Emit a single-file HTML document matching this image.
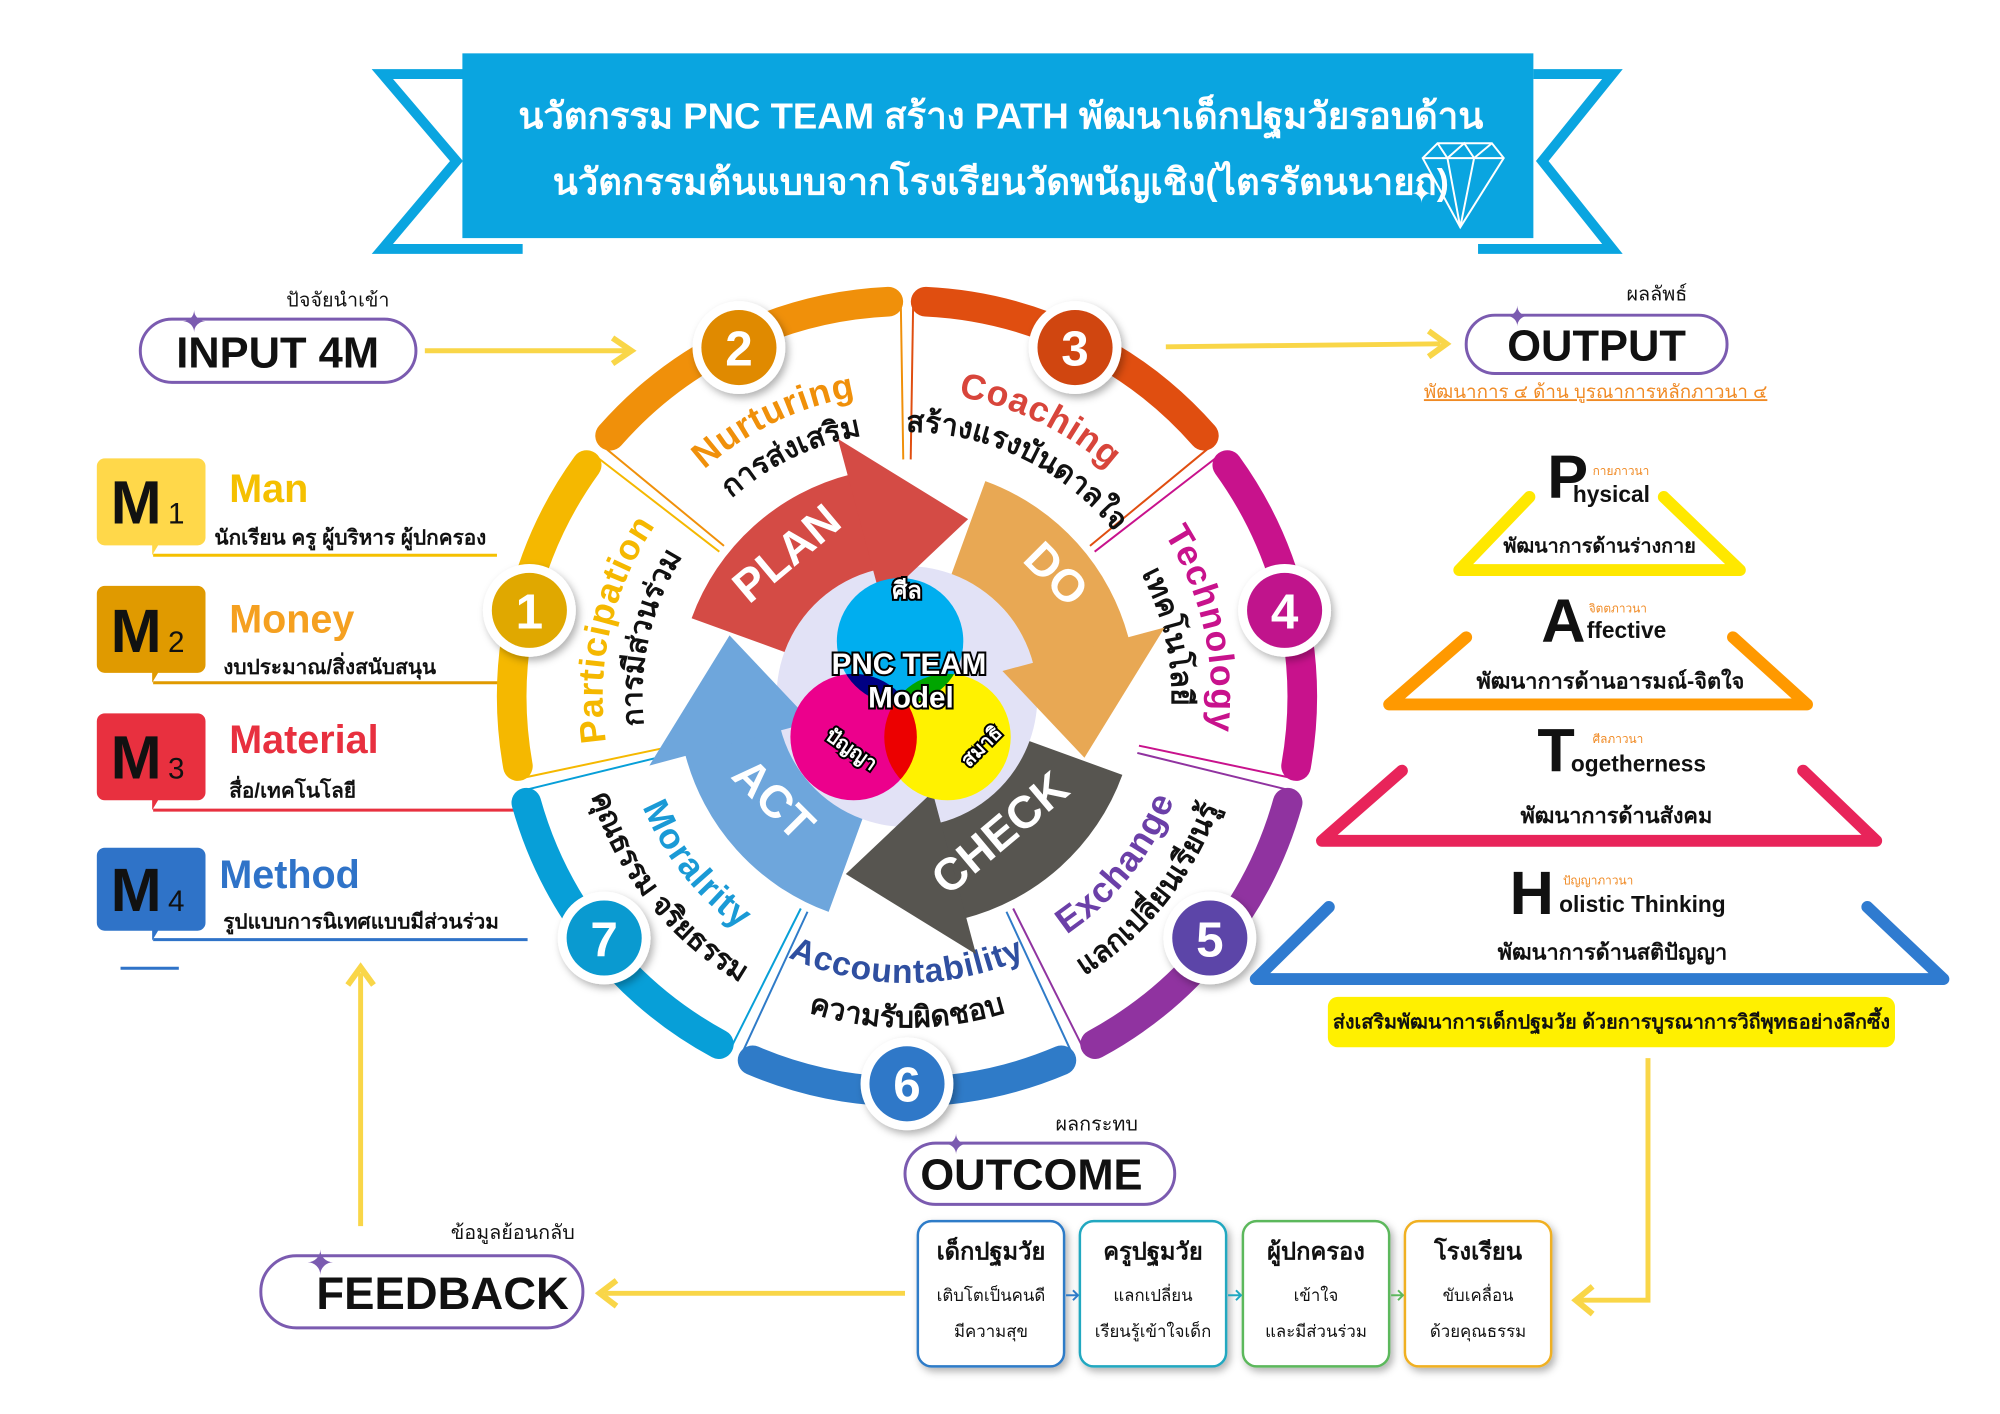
<!DOCTYPE html>
<html><head><meta charset="utf-8"><style>
html,body{margin:0;padding:0;background:#fff;}
svg{display:block;}
text{font-family:"Liberation Sans",sans-serif;}
.th{font-family:"Liberation Sans","Noto Sans CJK SC",sans-serif;}
</style></head><body>
<svg width="2000" height="1414" viewBox="0 0 2000 1414" xmlns="http://www.w3.org/2000/svg">
<defs>
<filter id="sh" x="-30%" y="-30%" width="160%" height="160%"><feDropShadow dx="3" dy="4" stdDeviation="4" flood-color="#000" flood-opacity="0.3"/></filter>
<path id="cw308" d="M1153.9,507 A308 308 0 0 1 1153.9,903"/>
<path id="cw268" d="M1123.3,532.7 A268 268 0 0 1 1123.3,877.3"/>
<path id="ccw290" d="M1140.1,891.4 A290 290 0 0 0 1140.1,518.6"/>
<path id="ccw335" d="M1174.6,920.3 A335 335 0 0 0 1174.6,489.7"/>
</defs>
<g transform="scale(0.988)">
<!-- Title banner -->
<polyline points="471,75 387,75 462,163 387,252 529,252" fill="none" stroke="#0AA5E0" stroke-width="10" stroke-linejoin="miter"/>
<polyline points="1552,75 1632,75 1561,163 1632,252 1496,252" fill="none" stroke="#0AA5E0" stroke-width="10" stroke-linejoin="miter"/>
<rect x="468" y="54" width="1084" height="187" fill="#0AA5E0"/>
<text x="1013" y="130" text-anchor="middle" class="th" font-family="Liberation Serif,serif" font-size="37" font-weight="bold" fill="#fff">นวัตกรรม PNC TEAM สร้าง PATH พัฒนาเด็กปฐมวัยรอบด้าน</text>
<text x="1013" y="197" text-anchor="middle" class="th" font-family="Liberation Serif,serif" font-size="37" font-weight="bold" fill="#fff">นวัตกรรมต้นแบบจากโรงเรียนวัดพนัญเชิง(ไตรรัตนนายก)</text>
<g fill="none" stroke="#fff" stroke-width="2">
<polygon points="1440,160 1455,145 1510,145 1522,160 1478,230"/>
<polyline points="1440,160 1522,160"/><polyline points="1465,160 1478,230 1492,160"/><polyline points="1455,145 1465,160 1482,145 1492,160 1510,145"/>
</g>
<text x="1428" y="205" font-size="26" fill="#fff">✦</text>

<!-- INPUT -->
<text x="342" y="310" text-anchor="middle" class="th" font-size="20" fill="#111">ปัจจัยนำเข้า</text>
<rect x="142" y="323" width="279" height="64" rx="32" fill="#fff" stroke="#7B5BB0" stroke-width="3"/>
<text x="281" y="372" text-anchor="middle" font-size="44" font-weight="bold" fill="#111">INPUT 4M</text>
<text x="184" y="336" font-size="30" fill="#7B5BB0">✦</text>
<line x1="430" y1="355" x2="635" y2="355" stroke="#F9D648" stroke-width="5"/>
<polyline points="620,342 639,355 620,368" fill="none" stroke="#F9D648" stroke-width="6"/>

<!-- OUTPUT -->
<text x="1677" y="304" text-anchor="middle" class="th" font-size="20" fill="#111">ผลลัพธ์</text>
<rect x="1484" y="319" width="264" height="59" rx="29" fill="#fff" stroke="#7B5BB0" stroke-width="3"/>
<text x="1616" y="365" text-anchor="middle" font-size="44" font-weight="bold" fill="#111">OUTPUT</text>
<text x="1524" y="330" font-size="28" fill="#7B5BB0">✦</text>
<line x1="1180" y1="351" x2="1458" y2="348" stroke="#F9D648" stroke-width="5"/>
<polyline points="1446,335 1464,348 1446,361" fill="none" stroke="#F9D648" stroke-width="6"/>
<text x="1615" y="403" text-anchor="middle" class="th" font-size="19" fill="#F08A24" text-decoration="underline">พัฒนาการ ๔ ด้าน บูรณาการหลักภาวนา ๔</text>

<!-- M boxes -->
<g>
<path d="M106,464 h94 a8 8 0 0 1 8 8 v72 a8 8 0 0 1 -8 8 h-40 l-6 10 v-10 h-48 a8 8 0 0 1 -8 -8 v-72 a8 8 0 0 1 8 -8z" fill="#FFD84A"/>
<text x="112" y="530" font-size="62" font-weight="bold" fill="#111">M</text><text x="170" y="530" font-size="30" fill="#111">1</text>
<text x="232" y="508" font-size="40" font-weight="bold" fill="#F5C000">Man</text>
<text x="217" y="551" class="th" font-size="21" font-weight="bold" fill="#111">นักเรียน ครู ผู้บริหาร ผู้ปกครอง</text>
<line x1="155" y1="562" x2="503" y2="562" stroke="#F5C000" stroke-width="3"/>

<path d="M106,593 h94 a8 8 0 0 1 8 8 v72 a8 8 0 0 1 -8 8 h-40 l-6 10 v-10 h-48 a8 8 0 0 1 -8 -8 v-72 a8 8 0 0 1 8 -8z" fill="#E09A00"/>
<text x="112" y="660" font-size="62" font-weight="bold" fill="#111">M</text><text x="170" y="660" font-size="30" fill="#111">2</text>
<text x="232" y="640" font-size="40" font-weight="bold" fill="#F5A020">Money</text>
<text x="226" y="682" class="th" font-size="21" font-weight="bold" fill="#111">งบประมาณ/สิ่งสนับสนุน</text>
<line x1="155" y1="691" x2="506" y2="691" stroke="#E09A00" stroke-width="3"/>

<path d="M106,722 h94 a8 8 0 0 1 8 8 v72 a8 8 0 0 1 -8 8 h-40 l-6 10 v-10 h-48 a8 8 0 0 1 -8 -8 v-72 a8 8 0 0 1 8 -8z" fill="#E8303F"/>
<text x="112" y="788" font-size="62" font-weight="bold" fill="#111">M</text><text x="170" y="788" font-size="30" fill="#111">3</text>
<text x="232" y="762" font-size="40" font-weight="bold" fill="#E8303F">Material</text>
<text x="232" y="807" class="th" font-size="21" font-weight="bold" fill="#111">สื่อ/เทคโนโลยี</text>
<line x1="155" y1="820" x2="522" y2="820" stroke="#E8303F" stroke-width="3"/>

<path d="M106,858 h94 a8 8 0 0 1 8 8 v68 a8 8 0 0 1 -8 8 h-40 l-6 10 v-10 h-48 a8 8 0 0 1 -8 -8 v-68 a8 8 0 0 1 8 -8z" fill="#2F73C8"/>
<text x="112" y="922" font-size="62" font-weight="bold" fill="#111">M</text><text x="170" y="922" font-size="30" fill="#111">4</text>
<text x="222" y="899" font-size="40" font-weight="bold" fill="#2F73C8">Method</text>
<text x="226" y="940" class="th" font-size="21" font-weight="bold" fill="#111">รูปแบบการนิเทศแบบมีส่วนร่วม</text>
<line x1="155" y1="951" x2="534" y2="951" stroke="#2F73C8" stroke-width="3"/>
<line x1="122" y1="980" x2="181" y2="980" stroke="#2F73C8" stroke-width="3"/>
</g>

<!-- Divider lines -->
<g stroke-width="2">
<g transform="rotate(-0.9 918 705)"><line x1="813.9" y1="921.2" x2="746.6" y2="1060.9" stroke="#2F7BC8"/><line x1="684" y1="758.4" x2="532.9" y2="792.9" stroke="#079FD8"/><line x1="730.4" y1="555.4" x2="609.2" y2="458.7" stroke="#F5B800"/><line x1="918" y1="465" x2="918" y2="310" stroke="#F0900A"/><line x1="1105.6" y1="555.4" x2="1226.8" y2="458.7" stroke="#E04E10"/><line x1="1152" y1="758.4" x2="1303.1" y2="792.9" stroke="#C8128C"/><line x1="1022.1" y1="921.2" x2="1089.4" y2="1060.9" stroke="#9033A0"/></g>
<g transform="rotate(0.9 918 705)"><line x1="813.9" y1="921.2" x2="746.6" y2="1060.9" stroke="#079FD8"/><line x1="684" y1="758.4" x2="532.9" y2="792.9" stroke="#F5B800"/><line x1="730.4" y1="555.4" x2="609.2" y2="458.7" stroke="#F0900A"/><line x1="918" y1="465" x2="918" y2="310" stroke="#E04E10"/><line x1="1105.6" y1="555.4" x2="1226.8" y2="458.7" stroke="#C8128C"/><line x1="1152" y1="758.4" x2="1303.1" y2="792.9" stroke="#9033A0"/><line x1="1022.1" y1="921.2" x2="1089.4" y2="1060.9" stroke="#2F7BC8"/></g>
</g>

<!-- Ring segments -->
<g fill="none" stroke-width="30" stroke-linecap="round">
<path d="M1074.3,1073.2 A400 400 0 0 1 761.7,1073.2" stroke="#2F7BC8"/>
<path d="M727.6,1056.8 A400 400 0 0 1 532.7,812.4" stroke="#079FD8"/>
<path d="M524.2,775.4 A400 400 0 0 1 593.8,470.7" stroke="#F5B800"/>
<path d="M617.5,441 A400 400 0 0 1 899.1,305.4" stroke="#F0900A"/>
<path d="M936.9,305.4 A400 400 0 0 1 1218.5,441" stroke="#E04E10"/>
<path d="M1242.2,470.7 A400 400 0 0 1 1311.8,775.4" stroke="#C8128C"/>
<path d="M1303.3,812.4 A400 400 0 0 1 1108.4,1056.8" stroke="#9033A0"/>
</g>

<!-- Segment labels -->
<g font-weight="bold">
<g transform="rotate(192.86 918 705)"><text font-size="36" fill="#F5B800" letter-spacing="1"><textPath href="#cw308" startOffset="50%" text-anchor="middle">Participation</textPath></text><text class="th" font-size="30" fill="#111"><textPath href="#cw268" startOffset="50%" text-anchor="middle">การมีส่วนร่วม</textPath></text></g>
<g transform="rotate(244.29 918 705)"><text font-size="36" fill="#F0900A" letter-spacing="1"><textPath href="#cw308" startOffset="50%" text-anchor="middle">Nurturing</textPath></text><text class="th" font-size="30" fill="#111"><textPath href="#cw268" startOffset="50%" text-anchor="middle">การส่งเสริม</textPath></text></g>
<g transform="rotate(295.71 918 705)"><text font-size="36" fill="#D8453B" letter-spacing="1"><textPath href="#cw308" startOffset="50%" text-anchor="middle">Coaching</textPath></text><text class="th" font-size="30" fill="#111"><textPath href="#cw268" startOffset="50%" text-anchor="middle">สร้างแรงบันดาลใจ</textPath></text></g>
<g transform="rotate(347.14 918 705)"><text font-size="36" fill="#C8128C" letter-spacing="1"><textPath href="#cw308" startOffset="50%" text-anchor="middle">Technology</textPath></text><text class="th" font-size="30" fill="#111"><textPath href="#cw268" startOffset="50%" text-anchor="middle">เทคโนโลยี</textPath></text></g>
<g transform="rotate(38.57 918 705)"><text font-size="36" fill="#6B3FA8" letter-spacing="1"><textPath href="#ccw290" startOffset="50%" text-anchor="middle">Exchange</textPath></text><text class="th" font-size="30" fill="#111"><textPath href="#ccw335" startOffset="50%" text-anchor="middle">แลกเปลี่ยนเรียนรู้</textPath></text></g>
<g transform="rotate(90 918 705)"><text font-size="34" fill="#2F4FA0" letter-spacing="1"><textPath href="#ccw290" startOffset="50%" text-anchor="middle">Accountability</textPath></text><text class="th" font-size="30" fill="#111"><textPath href="#ccw335" startOffset="50%" text-anchor="middle">ความรับผิดชอบ</textPath></text></g>
<g transform="rotate(141.43 918 705)"><text font-size="36" fill="#1A9AD6" letter-spacing="1"><textPath href="#ccw290" startOffset="50%" text-anchor="middle">Moralrity</textPath></text><text class="th" font-size="30" fill="#111"><textPath href="#ccw335" startOffset="50%" text-anchor="middle">คุณธรรม จริยธรรม</textPath></text></g>
</g>

<!-- Number circles -->
<g font-size="50" font-weight="bold" fill="#fff" text-anchor="middle" font-family="Liberation Sans Narrow,Liberation Sans,sans-serif">
<circle cx="535.8" cy="617.8" r="47" fill="#fff" filter="url(#sh)"/><circle cx="535.8" cy="617.8" r="38" fill="#E0A800"/><text x="535.8" y="636">1</text>
<circle cx="747.9" cy="351.8" r="47" fill="#fff" filter="url(#sh)"/><circle cx="747.9" cy="351.8" r="38" fill="#E08A00"/><text x="747.9" y="370">2</text>
<circle cx="1088.1" cy="351.8" r="47" fill="#fff" filter="url(#sh)"/><circle cx="1088.1" cy="351.8" r="38" fill="#D04610"/><text x="1088.1" y="370">3</text>
<circle cx="1300.2" cy="617.8" r="47" fill="#fff" filter="url(#sh)"/><circle cx="1300.2" cy="617.8" r="38" fill="#C0148C"/><text x="1300.2" y="636">4</text>
<circle cx="1224.5" cy="949.4" r="47" fill="#fff" filter="url(#sh)"/><circle cx="1224.5" cy="949.4" r="38" fill="#5C45A8"/><text x="1224.5" y="968">5</text>
<circle cx="918" cy="1097" r="47" fill="#fff" filter="url(#sh)"/><circle cx="918" cy="1097" r="38" fill="#2F78C8"/><text x="918" y="1115">6</text>
<circle cx="611.5" cy="949.4" r="47" fill="#fff" filter="url(#sh)"/><circle cx="611.5" cy="949.4" r="38" fill="#0A9AD0"/><text x="611.5" y="968">7</text>
</g>

<!-- Center disc -->
<circle cx="918" cy="705" r="132" fill="#E2E2F6"/>

<!-- PDCA arrows -->
<path d="M700,625.7 A232 232 0 0 1 861.9,479.9 L886.1,576.9 A132 132 0 0 0 794,659.9 Z" fill="#D44B45"/>
<polygon points="892.1,608.4 848.1,444.2 979.9,525.4" fill="#D44B45"/>
<path d="M997.3,487 A232 232 0 0 1 1143.1,648.9 L1046.1,673.1 A132 132 0 0 0 963.1,581 Z" fill="#E8A854"/>
<polygon points="1014.6,679.1 1178.8,635.1 1097.6,766.9" fill="#E8A854"/>
<path d="M1136,784.3 A232 232 0 0 1 974.1,930.1 L949.9,833.1 A132 132 0 0 0 1042,750.1 Z" fill="#575550"/>
<polygon points="943.9,801.6 987.9,965.8 856.1,884.6" fill="#575550"/>
<path d="M838.7,923 A232 232 0 0 1 692.9,761.1 L789.9,736.9 A132 132 0 0 0 872.9,829 Z" fill="#6EA6DC"/>
<polygon points="821.4,730.9 657.2,774.9 738.4,643.1" fill="#6EA6DC"/>

<g font-size="46" font-weight="bold" fill="#fff" text-anchor="middle">
<text transform="translate(806,572) rotate(-40)">PLAN</text>
<text transform="translate(1058,592) rotate(45)">DO</text>
<text transform="translate(1022,855) rotate(-40)">CHECK</text>
<text transform="translate(772,820) rotate(45)">ACT</text>
</g>

<!-- Venn -->
<g style="isolation:isolate">
<circle cx="911" cy="649" r="64" fill="#00AEEF"/>
<circle cx="864" cy="746" r="64" fill="#EC008C" style="mix-blend-mode:multiply"/>
<circle cx="959" cy="746" r="64" fill="#FFF200" style="mix-blend-mode:multiply"/>
</g>
<g font-weight="bold" fill="#fff" stroke="#000" stroke-width="4" paint-order="stroke" text-anchor="middle">
<text x="920" y="682" font-size="30">PNC TEAM</text>
<text x="922" y="716" font-size="30">Model</text>
<text x="918" y="606" class="th" font-size="24">ศีล</text>
<text transform="translate(858,764) rotate(35)" class="th" font-size="20">ปัญญา</text>
<text transform="translate(998,760) rotate(-45)" class="th" font-size="20">สมาธิ</text>
</g>

<!-- Right pyramids -->
<g fill="none" stroke-width="12" stroke-linejoin="round" stroke-linecap="round">
<polyline points="1548,503 1477,577 1761,577 1684,503" stroke="#FFE800"/>
<polyline points="1484,645 1406,713 1829,713 1754,645" stroke="#FF9900"/>
<polyline points="1419,780 1338,851 1899,851 1825,780" stroke="#E8245A"/>
<polyline points="1345,918 1271,991 1967,991 1890,918" stroke="#2F7BD0"/>
</g>
<g fill="#111">
<text x="1566" y="504" font-size="62" font-weight="bold">P</text>
<text x="1592" y="508" font-family="Liberation Serif,serif" font-size="23" font-weight="bold">hysical</text>
<text x="1612" y="481" class="th" font-size="12" fill="#F08A24">กายภาวนา</text>
<text x="1619" y="559" text-anchor="middle" class="th" font-size="20" font-weight="bold">พัฒนาการด้านร่างกาย</text>

<text x="1560" y="650" font-size="62" font-weight="bold">A</text>
<text x="1606" y="646" font-family="Liberation Serif,serif" font-size="23" font-weight="bold">ffective</text>
<text x="1608" y="620" class="th" font-size="12" fill="#F08A24">จิตตภาวนา</text>
<text x="1630" y="697" text-anchor="middle" class="th" font-size="22" font-weight="bold">พัฒนาการด้านอารมณ์-จิตใจ</text>

<text x="1556" y="781" font-size="62" font-weight="bold">T</text>
<text x="1590" y="781" font-family="Liberation Serif,serif" font-size="23" font-weight="bold">ogetherness</text>
<text x="1612" y="752" class="th" font-size="12" fill="#F08A24">ศีลภาวนา</text>
<text x="1636" y="833" text-anchor="middle" class="th" font-size="22" font-weight="bold">พัฒนาการด้านสังคม</text>

<text x="1528" y="925" font-size="62" font-weight="bold">H</text>
<text x="1578" y="923" font-family="Liberation Serif,serif" font-size="23" font-weight="bold">olistic Thinking</text>
<text x="1582" y="895" class="th" font-size="12" fill="#F08A24">ปัญญาภาวนา</text>
<text x="1632" y="971" text-anchor="middle" class="th" font-size="22" font-weight="bold">พัฒนาการด้านสติปัญญา</text>
</g>
<rect x="1344" y="1009" width="574" height="51" rx="10" fill="#FFF000"/>
<text x="1631" y="1041" text-anchor="middle" class="th" font-size="20" font-weight="bold" fill="#111">ส่งเสริมพัฒนาการเด็กปฐมวัย ด้วยการบูรณาการวิถีพุทธอย่างลึกซึ้ง</text>

<!-- right connector -->
<polyline points="1668,1071 1668,1316 1598,1316" fill="none" stroke="#F9D648" stroke-width="5"/>
<polyline points="1612,1302 1595,1316 1612,1330" fill="none" stroke="#F9D648" stroke-width="6"/>

<!-- OUTCOME -->
<text x="1110" y="1144" text-anchor="middle" class="th" font-size="20" fill="#111">ผลกระทบ</text>
<rect x="916" y="1157" width="273" height="62" rx="31" fill="#fff" stroke="#7B5BB0" stroke-width="3"/>
<text x="1044" y="1204" text-anchor="middle" font-size="44" font-weight="bold" fill="#111">OUTCOME</text>
<text x="956" y="1168" font-size="28" fill="#7B5BB0">✦</text>

<g class="th" text-anchor="middle" fill="#111">
<rect x="929" y="1236" width="148" height="147" rx="14" fill="#fff" stroke="#2F7BC8" stroke-width="2.5" filter="url(#sh)"/>
<text x="1003" y="1275" font-size="24" font-weight="bold">เด็กปฐมวัย</text><text x="1003" y="1317" font-size="17">เติบโตเป็นคนดี</text><text x="1003" y="1353" font-size="17">มีความสุข</text>
<rect x="1093" y="1236" width="148" height="147" rx="14" fill="#fff" stroke="#20A8C0" stroke-width="2.5" filter="url(#sh)"/>
<text x="1167" y="1275" font-size="24" font-weight="bold">ครูปฐมวัย</text><text x="1167" y="1317" font-size="17">แลกเปลี่ยน</text><text x="1167" y="1353" font-size="17">เรียนรู้เข้าใจเด็ก</text>
<rect x="1258" y="1236" width="148" height="147" rx="14" fill="#fff" stroke="#5CB85C" stroke-width="2.5" filter="url(#sh)"/>
<text x="1332" y="1275" font-size="24" font-weight="bold">ผู้ปกครอง</text><text x="1332" y="1317" font-size="17">เข้าใจ</text><text x="1332" y="1353" font-size="17">และมีส่วนร่วม</text>
<rect x="1422" y="1236" width="148" height="147" rx="14" fill="#fff" stroke="#F0B020" stroke-width="2.5" filter="url(#sh)"/>
<text x="1496" y="1275" font-size="24" font-weight="bold">โรงเรียน</text><text x="1496" y="1317" font-size="17">ขับเคลื่อน</text><text x="1496" y="1353" font-size="17">ด้วยคุณธรรม</text>
</g>
<g stroke-width="2" fill="none">
<line x1="1079" y1="1311" x2="1091" y2="1311" stroke="#2F7BC8"/><polyline points="1086,1306 1091,1311 1086,1316" stroke="#2F7BC8"/>
<line x1="1243" y1="1311" x2="1256" y2="1311" stroke="#20A8C0"/><polyline points="1251,1306 1256,1311 1251,1316" stroke="#20A8C0"/>
<line x1="1408" y1="1311" x2="1420" y2="1311" stroke="#5CB85C"/><polyline points="1415,1306 1420,1311 1415,1316" stroke="#5CB85C"/>
</g>

<!-- FEEDBACK -->
<line x1="916" y1="1309" x2="612" y2="1309" stroke="#F9D648" stroke-width="5"/>
<polyline points="624,1296 607,1309 624,1322" fill="none" stroke="#F9D648" stroke-width="6"/>
<text x="519" y="1254" text-anchor="middle" class="th" font-size="20" fill="#111">ข้อมูลย้อนกลับ</text>
<rect x="264" y="1271" width="326" height="73" rx="36" fill="#fff" stroke="#7B5BB0" stroke-width="3"/>
<text x="448" y="1325" text-anchor="middle" font-size="46" font-weight="bold" fill="#111">FEEDBACK</text>
<text x="310" y="1290" font-size="34" fill="#7B5BB0">✦</text>
<line x1="365" y1="1241" x2="365" y2="985" stroke="#F9D648" stroke-width="5"/>
<polyline points="352,997 365,979 378,997" fill="none" stroke="#F9D648" stroke-width="6"/>
</g>
</svg>
</body></html>
